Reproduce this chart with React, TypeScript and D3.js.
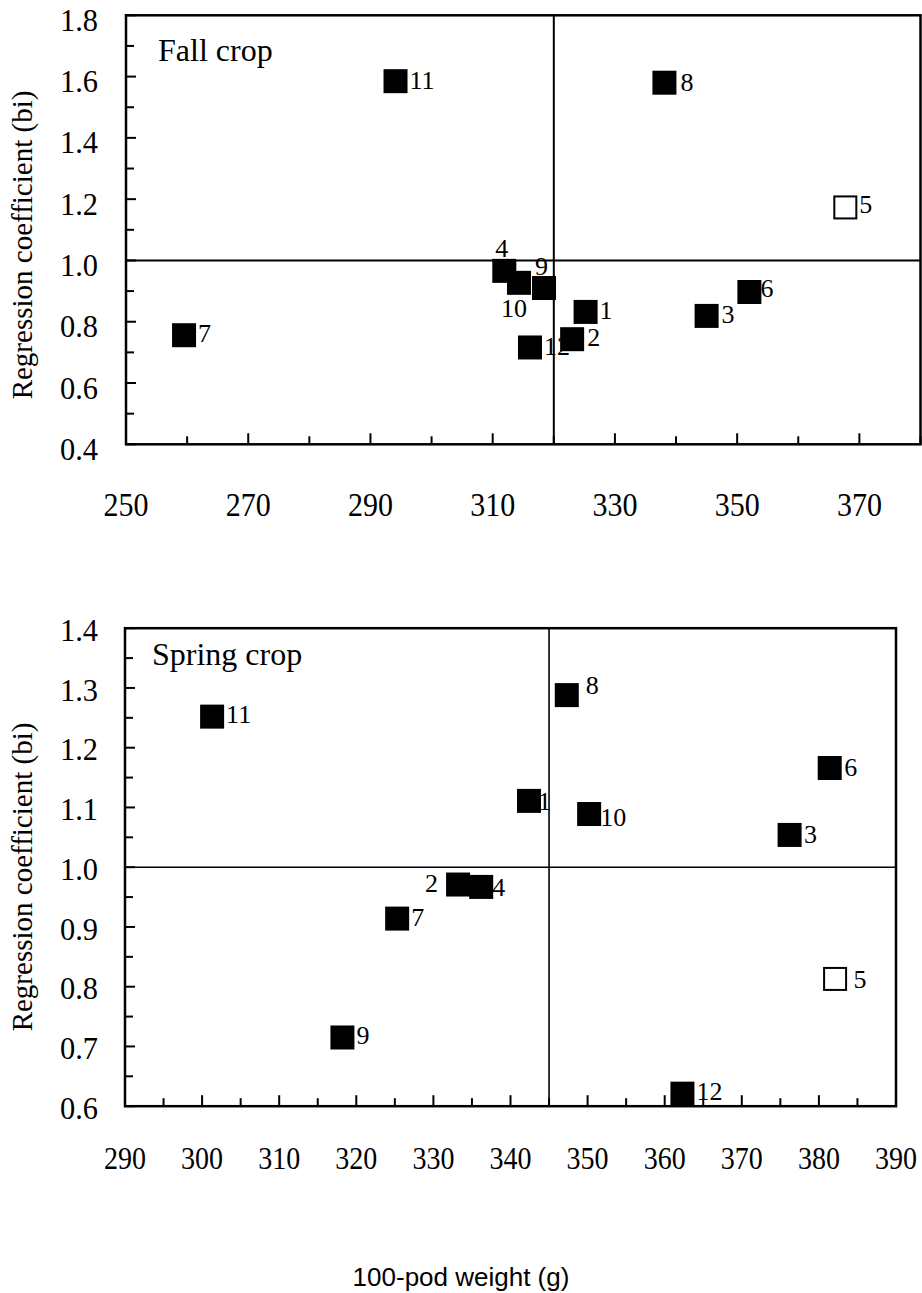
import React from "react";
import * as d3 from "d3";

// ---------- DATA ----------
const genotypes = [1, 2, 3, 4, 5, 6, 7, 8, 9, 10, 11, 12];
const openGenotypes = [5];

const fallWeight = [325.2, 323.0, 345.0, 311.9, 367.7, 352.0, 259.5, 338.1, 318.4, 314.3, 294.1, 316.1];
const fallBi = [0.832, 0.743, 0.819, 0.966, 1.173, 0.897, 0.756, 1.58, 0.91, 0.927, 1.585, 0.716];

const springWeight = [342.4, 333.2, 376.2, 336.2, 382.1, 381.4, 325.3, 347.3, 318.2, 350.2, 301.3, 362.3];
const springBi = [1.111, 0.971, 1.054, 0.967, 0.813, 1.166, 0.914, 1.288, 0.715, 1.089, 1.252, 0.621];

const fallXTicks = [250, 270, 290, 310, 330, 350, 370];
const fallYTicks = [0.4, 0.6, 0.8, 1.0, 1.2, 1.4, 1.6, 1.8];
const springXTicks = [290, 300, 310, 320, 330, 340, 350, 360, 370, 380, 390];
const springYTicks = [0.6, 0.7, 0.8, 0.9, 1.0, 1.1, 1.2, 1.3, 1.4];

// ---------- LAYOUT ----------
const serif: React.CSSProperties = { fontFamily: "Liberation Serif" };
const sans: React.CSSProperties = { fontFamily: "Liberation Sans" };

type Off = [number, number, string?];
const fallLabelOff: Record<number, Off> = {
  1: [14, 7], 2: [15, 7], 3: [15, 7.4], 4: [-9, -14], 5: [14, 5.5], 6: [11, 5],
  7: [14, 6.5], 8: [16, 8.5], 9: [-9, -13], 10: [-18, 34], 11: [14, 7.6], 12: [14, 7.3],
};
const springLabelOff: Record<number, Off> = {
  1: [9, 9], 2: [-20, 7, "end"], 3: [14.5, 8], 4: [11, 9], 5: [18.5, 9.4], 6: [14.5, 7.7],
  7: [14, 7.7], 8: [19, -1], 9: [14, 6.7], 10: [11, 11.5], 11: [14, 6.4], 12: [14, 6.5],
};

interface PanelProps {
  left: number; right: number; top: number; bottom: number;
  xDomain: [number, number]; yDomain: [number, number];
  xTicks: number[]; xMinorStep: number;
  yTicks: number[]; yMinorStep: number;
  xRef: number; yRef: number;
  weights: number[]; bis: number[];
  title: string; titleX: number; titleY: number;
  xLabelDy: number; xLabelSize: number; xLabelLen: number;
  yLabelDy: number;
  yTitleCenter: number;
  offs: Record<number, Off>;
  refWidth: number;
}

function Panel(p: PanelProps) {
  const x = d3.scaleLinear().domain(p.xDomain).range([p.left, p.right]);
  const y = d3.scaleLinear().domain(p.yDomain).range([p.bottom, p.top]);
  const xMinor = d3.range(p.xDomain[0], p.xDomain[1] + 1e-9, p.xMinorStep);
  const yMinor = d3.range(p.yDomain[0], p.yDomain[1] + 1e-9, p.yMinorStep);
  const isMajorX = (v: number) => p.xTicks.some((t) => Math.abs(t - v) < 1e-6);
  const isMajorY = (v: number) => p.yTicks.some((t) => Math.abs(t - v) < 1e-6);
  const sq = 24;
  return (
    <g>
      {xMinor.map((v, i) => (
        <line key={"xt" + i} x1={x(v)} x2={x(v)} y1={p.bottom} y2={p.bottom - (isMajorX(v) ? 11 : 8)} stroke="#000" strokeWidth={2} />
      ))}
      {yMinor.map((v, i) => (
        <line key={"yt" + i} x1={p.left} x2={p.left + (isMajorY(v) ? 10 : 8)} y1={y(v)} y2={y(v)} stroke="#000" strokeWidth={2} />
      ))}
      <line x1={x(p.xRef)} x2={x(p.xRef)} y1={p.top} y2={p.bottom} stroke="#000" strokeWidth={p.refWidth} />
      <line x1={p.left} x2={p.right} y1={y(p.yRef)} y2={y(p.yRef)} stroke="#000" strokeWidth={p.refWidth} />
      <rect x={p.left} y={p.top} width={p.right - p.left} height={p.bottom - p.top} fill="none" stroke="#000" strokeWidth={2.5} />
      {p.xTicks.map((v) => (
        <text key={"xl" + v} x={x(v)} y={p.bottom + p.xLabelDy} textAnchor="middle" style={serif} fontSize={p.xLabelSize}
          textLength={p.xLabelLen} lengthAdjust="spacingAndGlyphs">{String(v)}</text>
      ))}
      {p.yTicks.map((v) => (
        <text key={"yl" + v} x={98} y={y(v) + p.yLabelDy} textAnchor="end" style={serif} fontSize={32}
          textLength={38} lengthAdjust="spacingAndGlyphs">{v.toFixed(1)}</text>
      ))}
      <text transform={`translate(32,${p.yTitleCenter}) rotate(-90)`} textAnchor="middle" style={serif} fontSize={29}>
        Regression coefficient (bi)
      </text>
      <text x={p.titleX} y={p.titleY} style={serif} fontSize={32}>{p.title}</text>
      {genotypes.map((g, i) => {
        const o = p.offs[g];
        return (
          <text key={"pl" + g} x={x(p.weights[i]) + o[0]} y={y(p.bis[i]) + o[1]} textAnchor={o[2] || "start"}
            style={serif} fontSize={26}>{String(g)}</text>
        );
      })}
      {genotypes.map((g, i) => {
        const open = openGenotypes.includes(g);
        return open ? (
          <rect key={"m" + g} x={x(p.weights[i]) - sq / 2 + 1} y={y(p.bis[i]) - sq / 2 + 1} width={sq - 2} height={sq - 2}
            fill="#fff" stroke="#000" strokeWidth={2} />
        ) : (
          <rect key={"m" + g} x={x(p.weights[i]) - sq / 2} y={y(p.bis[i]) - sq / 2} width={sq} height={sq} fill="#000" />
        );
      })}
    </g>
  );
}

export default function App() {
  return (
    <svg width={922} height={1293} style={{ position: "absolute", left: 0, top: 0, background: "#fff" }}>
      <rect x={0} y={0} width={922} height={1293} fill="#fff" />
      <Panel
        left={126} right={920.5} top={15.3} bottom={444.3}
        xDomain={[250, 380]} yDomain={[0.4, 1.8]}
        xTicks={fallXTicks} xMinorStep={10}
        yTicks={fallYTicks} yMinorStep={0.1}
        xRef={320} yRef={1.0}
        weights={fallWeight} bis={fallBi}
        title="Fall crop" titleX={158} titleY={61}
        xLabelDy={72} xLabelSize={33} xLabelLen={45}
        yLabelDy={15.5}
        yTitleCenter={245}
        offs={fallLabelOff}
        refWidth={2}
      />
      <Panel
        left={125} right={896} top={628.2} bottom={1106.2}
        xDomain={[290, 390]} yDomain={[0.6, 1.4]}
        xTicks={springXTicks} xMinorStep={5}
        yTicks={springYTicks} yMinorStep={0.05}
        xRef={345} yRef={1.0}
        weights={springWeight} bis={springBi}
        title="Spring crop" titleX={152} titleY={665}
        xLabelDy={63} xLabelSize={31} xLabelLen={42}
        yLabelDy={12.7}
        yTitleCenter={877}
        offs={springLabelOff}
        refWidth={1.6}
      />
      <text x={461} y={1286} textAnchor="middle" style={sans} fontSize={26}>100-pod weight (g)</text>
    </svg>
  );
}
